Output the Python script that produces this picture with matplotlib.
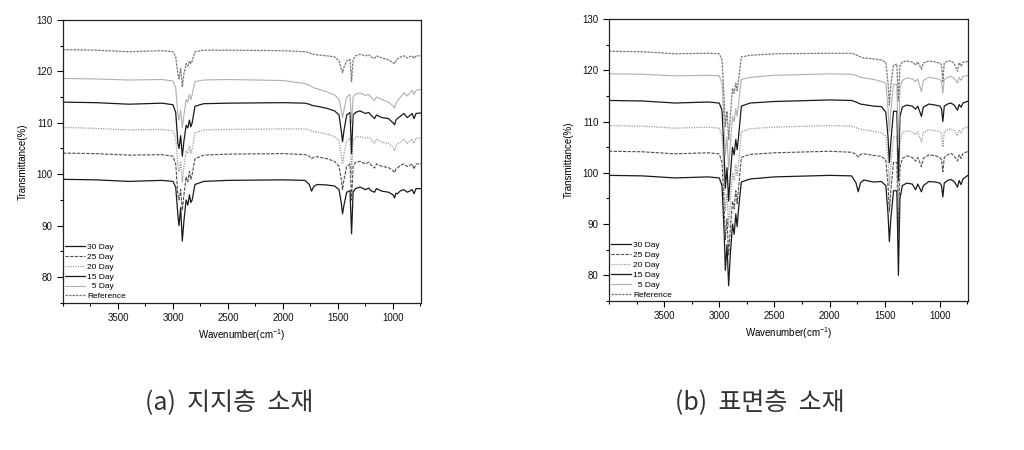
"""
FTIR 스펙트럼 비교 — (a) 지지층 소재, (b) 표면층 소재.
"""

import matplotlib
matplotlib.use("Agg")
import matplotlib.pyplot as plt
from matplotlib.ticker import MultipleLocator

plt.rcParams["font.family"] = ["Liberation Sans", "DejaVu Sans"]
plt.rcParams["mathtext.fontset"] = "custom"
plt.rcParams["mathtext.rm"] = "Liberation Sans"

# ---------------------------------------------------------------------------
# Datos
# ---------------------------------------------------------------------------
wavenumber = [4000, 3700, 3400, 3100, 3000, 2975, 2955, 2945, 2930, 2915,
              2900, 2880, 2865, 2850, 2838, 2825, 2800, 2720, 2500, 2000,
              1800, 1760, 1740, 1720, 1690, 1600, 1530, 1490, 1470, 1458,
              1445, 1420, 1390, 1376, 1362, 1340, 1300, 1250, 1220, 1200,
              1167, 1150, 1100, 1040, 1000, 985, 973, 960, 930, 900,
              870, 840, 825, 808, 790, 740]

labels = ["30 Day", "25 Day", "20 Day", "15 Day", "  5 Day", "Reference"]

# (a) 지지층 소재
a_30 = [99.0, 98.9, 98.6, 98.8, 98.6, 97.5, 92.0, 90.0, 93.5, 87.0,
        91.0, 95.0, 94.0, 96.0, 94.5, 95.0, 98.0, 98.6, 98.8, 98.9,
        98.8, 98.0, 96.7, 97.6, 98.0, 97.9, 97.7, 97.0, 94.5, 92.3,
        94.0, 96.5, 96.8, 88.4, 96.5, 97.2, 97.5, 97.0, 97.3, 96.8,
        96.5, 97.2, 96.7, 96.5, 96.0, 95.4, 96.3, 96.2, 96.8, 97.0,
        96.5, 96.8, 97.0, 96.2, 97.2, 97.2]
a_25 = [104.1, 104.0, 103.7, 103.8, 103.5, 102.0, 96.0, 95.0, 97.0, 93.0,
        96.0, 99.5, 98.5, 100.5, 99.0, 100.0, 103.0, 103.7, 103.9, 104.0,
        103.8, 103.5, 103.0, 103.3, 103.4, 103.0, 102.5, 101.5, 99.0, 97.0,
        99.0, 101.5, 102.0, 95.0, 101.5, 102.3, 102.5, 102.0, 102.3, 101.8,
        101.2, 102.0, 101.5, 101.3, 100.7, 100.3, 101.0, 101.2, 101.7, 102.0,
        101.5, 101.8, 102.0, 101.0, 102.0, 102.0]
a_20 = [109.1, 108.9, 108.6, 108.7, 108.4, 107.0, 101.5, 100.5, 102.5, 98.5,
        101.5, 104.5, 104.0, 105.5, 104.0, 105.0, 108.0, 108.6, 108.7, 108.8,
        108.8, 108.6, 108.4, 108.3, 108.2, 107.8, 107.3, 106.5, 104.0, 102.0,
        104.0, 106.5, 107.0, 100.0, 106.5, 107.2, 107.3, 107.0, 107.2, 106.8,
        106.0, 106.8, 106.2, 106.0, 105.2, 104.6, 105.5, 105.8, 106.3, 106.8,
        106.0, 106.5, 106.8, 106.0, 107.0, 107.0]
a_15 = [114.0, 113.9, 113.6, 113.8, 113.5, 112.0, 106.0, 105.0, 107.5, 103.5,
        106.5, 109.5, 109.0, 110.5, 109.2, 110.0, 113.2, 113.7, 113.8, 113.9,
        113.8, 113.6, 113.4, 113.3, 113.2, 112.8, 112.3, 111.5, 108.5, 106.3,
        108.5, 111.5, 112.0, 104.0, 111.5, 112.0, 112.3, 111.8, 112.0, 111.5,
        110.8, 111.5, 111.0, 110.8, 110.0, 109.6, 110.5, 110.8, 111.3, 111.8,
        111.0, 111.5, 111.8, 110.8, 111.8, 111.9]
a_5 = [118.6, 118.5, 118.3, 118.4, 118.1, 116.8, 111.5, 110.5, 112.5, 109.0,
       111.5, 114.5, 114.0, 115.5, 114.5, 115.5, 118.0, 118.3, 118.4, 118.2,
       117.6, 117.3, 117.0, 116.8, 116.6, 116.0, 115.4, 114.5, 112.5, 111.0,
       112.5, 115.0, 115.5, 110.0, 115.0, 115.6, 115.8, 115.3, 115.5, 115.0,
       114.3, 115.0, 114.5, 114.0, 113.3, 112.8, 113.8, 114.2, 115.0, 115.8,
       115.2, 116.0, 116.3, 115.5, 116.3, 116.5]
a_ref = [124.2, 124.1, 123.8, 124.0, 123.8, 122.8, 119.5, 118.5, 120.5, 117.0,
         119.5, 121.5, 121.0, 122.0, 121.5, 122.0, 123.8, 124.1, 124.1, 124.0,
         123.8, 123.6, 123.4, 123.3, 123.2, 123.0, 122.8, 122.0, 120.5, 119.7,
         120.8, 122.0, 122.3, 118.0, 122.3, 123.0, 123.3, 123.0, 123.2, 122.8,
         122.5, 123.0, 122.6, 122.2, 121.7, 121.5, 122.0, 122.4, 122.8, 123.0,
         122.6, 122.9, 123.0, 122.5, 123.0, 123.0]

# (b) 표면층 소재
b_30 = [99.5, 99.4, 99.0, 99.2, 99.0, 97.5, 88.0, 81.0, 86.0, 78.0,
        84.0, 90.0, 88.0, 92.0, 89.5, 93.0, 98.2, 98.8, 99.2, 99.5,
        99.4, 98.0, 96.3, 98.0, 98.6, 98.2, 98.3, 97.5, 92.0, 86.6,
        91.0, 96.5, 96.5, 80.0, 95.0, 97.5, 98.0, 97.8, 96.7, 97.8,
        96.3, 97.5, 98.3, 98.2, 98.0, 97.5, 95.3, 98.0, 98.5, 98.7,
        98.3, 97.2, 98.5, 97.7, 98.8, 99.6]
b_25 = [104.2, 104.1, 103.7, 103.9, 103.7, 102.0, 93.0, 87.0, 91.0, 84.0,
        89.0, 94.5, 93.0, 96.5, 94.0, 97.0, 103.0, 103.6, 103.9, 104.2,
        104.0, 103.6, 103.1, 103.6, 103.7, 103.4, 103.2, 102.5, 97.5, 92.5,
        96.5, 102.0, 102.0, 88.0, 101.0, 102.8, 103.3, 103.0, 102.3, 103.0,
        101.2, 102.8, 103.5, 103.3, 103.0, 102.5, 100.2, 103.0, 103.5, 103.8,
        103.3, 102.3, 103.5, 102.8, 103.8, 104.2]
b_20 = [109.2, 109.1, 108.7, 108.9, 108.7, 107.2, 98.0, 92.5, 96.0, 89.5,
        94.5, 100.0, 98.5, 101.5, 99.5, 102.0, 108.0, 108.6, 108.9, 109.2,
        109.1, 108.8, 108.6, 108.5, 108.4, 108.1, 107.8, 107.2, 102.5, 97.5,
        101.5, 107.0, 107.0, 93.5, 106.0, 107.8, 108.2, 108.0, 107.4, 108.0,
        106.0, 107.8, 108.4, 108.2, 108.0, 107.5, 105.0, 108.0, 108.4, 108.6,
        108.2, 107.2, 108.3, 107.8, 108.6, 109.0]
b_15 = [114.1, 114.0, 113.6, 113.8, 113.6, 112.2, 103.0, 97.0, 101.0, 94.5,
        99.5, 105.0, 103.5, 106.5, 104.5, 107.0, 113.0, 113.6, 113.9, 114.2,
        114.1, 113.8, 113.6, 113.4, 113.3, 113.0, 112.9, 111.8, 107.0, 102.0,
        106.0, 112.0, 112.0, 98.5, 111.0, 112.8, 113.2, 113.0, 112.4, 113.0,
        111.0, 112.8, 113.4, 113.2, 113.0, 112.5, 110.0, 113.0, 113.4, 113.6,
        113.2, 112.2, 113.3, 112.8, 113.6, 114.0]
b_5 = [119.3, 119.2, 118.9, 119.0, 118.9, 117.5, 109.0, 103.5, 107.0, 100.5,
       105.5, 111.0, 110.0, 112.5, 111.0, 113.5, 118.2, 118.6, 119.0, 119.3,
       119.2, 119.0, 118.8, 118.6, 118.5, 118.2, 117.8, 117.5, 112.5, 108.0,
       112.0, 117.2, 117.2, 105.0, 116.5, 118.0, 118.5, 118.3, 117.8, 118.3,
       115.8, 118.0, 118.6, 118.4, 118.2, 117.8, 115.5, 118.2, 118.6, 118.8,
       118.4, 117.5, 118.6, 118.0, 118.8, 119.0]
b_ref = [123.7, 123.6, 123.2, 123.3, 123.2, 122.0, 114.0, 109.0, 112.0, 106.5,
         111.0, 116.5, 115.5, 117.5, 116.0, 118.0, 122.6, 122.9, 123.2, 123.3,
         123.3, 123.0, 122.8, 122.6, 122.4, 122.2, 122.0, 121.5, 117.5, 113.2,
         117.0, 121.0, 121.2, 114.0, 120.8, 121.6, 121.8, 121.6, 121.0, 121.6,
         120.2, 121.4, 121.8, 121.6, 121.4, 121.0, 117.8, 121.4, 121.8, 121.8,
         121.3, 119.8, 121.5, 120.8, 121.6, 121.7]

# Estilos por serie (mismo orden que labels)
STYLES = [
    {"color": "#1a1a1a", "linestyle": "-",            "linewidth": 0.9},
    {"color": "#4d4d4d", "linestyle": (0, (3, 1.2)),  "linewidth": 0.8},
    {"color": "#9a9a9a", "linestyle": (0, (1, 1)),    "linewidth": 0.9},
    {"color": "#1a1a1a", "linestyle": "-",            "linewidth": 0.9},
    {"color": "#b0b0b0", "linestyle": "-",            "linewidth": 0.8},
    {"color": "#7a7a7a", "linestyle": (0, (2, 0.8)),  "linewidth": 0.9},
]


def dibujar_panel(ax, series):
    for valores, label, st in zip(series, labels, STYLES):
        ax.plot(wavenumber, valores, label=label, **st)

    ax.set_xlim(4000, 745)
    ax.set_ylim(75, 130)
    ax.xaxis.set_minor_locator(MultipleLocator(250))
    ax.yaxis.set_major_locator(MultipleLocator(10))
    ax.yaxis.set_minor_locator(MultipleLocator(5))
    ax.set_xticks([3500, 3000, 2500, 2000, 1500, 1000])
    ax.tick_params(which="both", direction="out", labelsize=7,
                   top=False, right=False, width=0.8, labelcolor="#111111")
    ax.tick_params(which="major", length=4)
    ax.tick_params(which="minor", length=2.5)
    for sp in ax.spines.values():
        sp.set_linewidth(0.9)
        sp.set_color("#222222")

    ax.set_xlabel(r"Wavenumber(cm$^{\mathregular{-1}}$)", fontsize=7, labelpad=3)
    ax.set_ylabel("Transmittance(%)", fontsize=7, labelpad=6)
    ax.legend(loc="lower left", frameon=False, fontsize=6,
              handlelength=2.3, handletextpad=0.3, labelspacing=0.25,
              borderaxespad=0.1, borderpad=0.2)


fig = plt.figure(figsize=(10.24, 4.5), dpi=100)
ax_a = fig.add_axes([0.0615, 0.327, 0.3496, 0.629])
ax_b = fig.add_axes([0.5947, 0.331, 0.3506, 0.627])

dibujar_panel(ax_a, [a_30, a_25, a_20, a_15, a_5, a_ref])
dibujar_panel(ax_b, [b_30, b_25, b_20, b_15, b_5, b_ref])

caption_font = ["Noto Sans CJK KR", "DejaVu Sans"]
fig.text(229 / 1024, 1 - 403 / 450, "(a)  지지층  소재", fontsize=18,
         ha="center", va="center", color="#333333", family=caption_font)
fig.text(760 / 1024, 1 - 403 / 450, "(b)  표면층  소재", fontsize=18,
         ha="center", va="center", color="#333333", family=caption_font)

fig.savefig("out.png", dpi=100)
plt.close(fig)
